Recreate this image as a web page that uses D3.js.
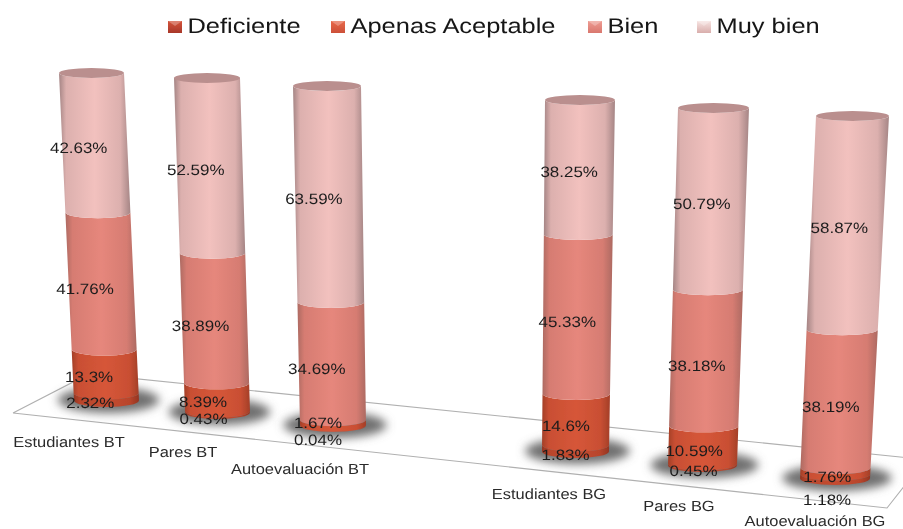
<!DOCTYPE html>
<html>
<head>
<meta charset="utf-8">
<script src="https://cdnjs.cloudflare.com/ajax/libs/d3/7.8.5/d3.min.js"></script>
<style>
    html, body { margin: 0; padding: 0; background: #fff; }
    svg { display: block; }
    text { font-family: "Liberation Sans", Arial, sans-serif; text-rendering: geometricPrecision; }
</style>
</head>
<body>
<div id="chart"></div>
<script>
const categories = ['Estudiantes BT', 'Pares BT', 'Autoevaluación BT', 'Estudiantes BG', 'Pares BG', 'Autoevaluación BG']
const seriesNames = ['Deficiente', 'Apenas Aceptable', 'Bien', 'Muy bien']

const deficiente = [2.32, 0.43, 0.04, 1.83, 0.45, 1.18]
const apenasAceptable = [13.3, 8.39, 1.67, 14.6, 10.59, 1.76]
const bien = [41.76, 38.89, 34.69, 45.33, 38.18, 38.19]
const muyBien = [42.63, 52.59, 63.59, 38.25, 50.79, 58.87]

const seriesValues = [deficiente, apenasAceptable, bien, muyBien]

const width = 903
const height = 529

// the picture is a perspective view, so every cylinder gets its own ends
const baseX = d3.scaleOrdinal(categories, [106.5, 217.5, 333, 575.5, 702.5, 835])
const topX = d3.scaleOrdinal(categories, [91.5, 207, 327, 580, 713.5, 852.5])
const baseY = d3.scaleOrdinal(categories, [407, 419, 432, 458, 472, 485])
const topY = d3.scaleOrdinal(categories, [78, 83, 91, 105, 113, 121])
const baseW = d3.scaleOrdinal(categories, [65, 65, 66, 67, 69, 70])
const topW = d3.scaleOrdinal(categories, [65, 66, 68, 70, 71, 73])
const labelShift = d3.scaleOrdinal(categories, [-16, -14, -15, -10, -9, -8])

const y = c => d3.scaleLinear().domain([0, 100]).range([baseY(c), topY(c)])
const cx = c => d3.scaleLinear().domain([0, 100]).range([baseX(c), topX(c)])
const halfW = c => d3.scaleLinear().domain([0, 100]).range([baseW(c) / 2, topW(c) / 2])
const ry = c => d3.scaleLinear().domain([0, 100]).range([6.5, 5])

// [edge, shoulder, centre] for the horizontal shading of the cylinders
const shades = [
    ['#933522', '#b8452c', '#c54c30'],
    ['#a33f28', '#c94f33', '#d65639'],
    ['#ad6a62', '#d67c72', '#e6877c'],
    ['#a58585', '#dcb0ae', '#f2c1be']
]
const capColor = '#ba8f8e'
const swatchShades = [
    ['#d4543a', '#a8382a'],
    ['#e8694a', '#cc5038'],
    ['#ee9c92', '#d9776e'],
    ['#f7e4e2', '#d9aeac']
]

const svg = d3.select('#chart').append('svg')
    .attr('width', width)
    .attr('height', height)
    .attr('viewBox', `0 0 ${width} ${height}`)

const defs = svg.append('defs')

defs.append('filter').attr('id', 'soft')
    .append('feGaussianBlur').attr('stdDeviation', 0.5)

defs.append('filter').attr('id', 'softText')
    .append('feGaussianBlur').attr('stdDeviation', 0.3)

defs.append('filter').attr('id', 'shadowBlur')
    .attr('x', '-40%').attr('y', '-100%').attr('width', '180%').attr('height', '300%')
    .append('feGaussianBlur').attr('stdDeviation', 5)

shades.forEach((s, i) => {
    const grad = defs.append('linearGradient').attr('id', `shade${i}`)
    const stops = [[0, s[0]], [0.1, s[1]], [0.5, s[2]], [0.86, s[1]], [1, s[0]]]
    grad.selectAll('stop').data(stops).join('stop')
        .attr('offset', d => d[0])
        .attr('stop-color', d => d[1])
})

swatchShades.forEach((s, i) => {
    const grad = defs.append('linearGradient').attr('id', `swatch${i}`)
        .attr('x1', 0).attr('x2', 0).attr('y1', 0).attr('y2', 1)
    grad.selectAll('stop').data(s).join('stop')
        .attr('offset', (d, j) => j)
        .attr('stop-color', d => d)
})

// floor of the 3d chart
svg.append('path')
    .attr('d', d3.line()([[13, 413], [88.8, 373.9], [925, 459.5], [887, 508], [13, 413]]))
    .attr('fill', 'none')
    .attr('stroke', '#b0b0b0')
    .attr('stroke-width', 1.1)
    .attr('filter', 'url(#soft)')

// shadows below the cylinders
svg.append('g')
    .selectAll('ellipse')
    .data(categories)
    .join('ellipse')
    .attr('cx', d => baseX(d) + 2)
    .attr('cy', d => baseY(d) - 7)
    .attr('rx', d => baseW(d) * 0.78)
    .attr('ry', 13)
    .attr('fill', '#707070')
    .attr('filter', 'url(#shadowBlur)')

// stack the values per category
const stacked = categories.map((c, i) => {
    let sum = 0
    return seriesValues.map((values, s) => {
        const item = { category: c, series: s, value: values[i], from: sum, to: sum + values[i] }
        sum += values[i]
        return item
    })
})

function segmentPath(d) {
    const c = d.category
    const yS = y(c), xS = cx(c), wS = halfW(c), rS = ry(c)
    const x0 = xS(d.from), x1 = xS(d.to)
    const w0 = wS(d.from), w1 = wS(d.to)
    const y0 = yS(d.from) - rS(d.from), y1 = yS(d.to) - rS(d.to)
    return `M${x0 - w0},${y0}` +
        `A${w0},${rS(d.from)} 0 0 0 ${x0 + w0},${y0}` +
        `L${x1 + w1},${y1}` +
        `A${w1},${rS(d.to)} 0 0 1 ${x1 - w1},${y1}Z`
}

const cylinders = svg.append('g')
    .attr('filter', 'url(#soft)')
    .selectAll('g')
    .data(stacked)
    .join('g')

cylinders.selectAll('path')
    .data(d => d)
    .join('path')
    .attr('d', segmentPath)
    .attr('fill', d => `url(#shade${d.series})`)

cylinders.append('ellipse')
    .attr('cx', d => cx(d[0].category)(100))
    .attr('cy', d => y(d[0].category)(100) - ry(d[0].category)(100))
    .attr('rx', d => halfW(d[0].category)(100))
    .attr('ry', d => ry(d[0].category)(100))
    .attr('fill', capColor)

// percent labels, the thin segments sit off their slice
const labelNudge = {
    'Pares BT': [1, -1, 0, 0],
    'Autoevaluación BT': [8, -6, 0, 0],
    'Autoevaluación BG': [17, 0, 0, 0]
}

function labelPos(d) {
    const mid = (d.from + d.to) / 2
    const nudge = labelNudge[d.category] ? labelNudge[d.category][d.series] : 0
    return [cx(d.category)(mid) + labelShift(d.category), y(d.category)(mid) + 1 + (d.series == 2 ? 2 : 0) + nudge]
}

svg.append('g')
    .attr('filter', 'url(#softText)')
    .selectAll('text')
    .data(stacked.flat())
    .join('text')
    .text(d => d.value + '%')
    .attr('text-anchor', 'middle')
    .attr('dominant-baseline', 'middle')
    .attr('transform', d => `translate(${labelPos(d)}) scale(1.13,1)`)
    .style('font-size', '15px')
    .style('fill', '#1c1c1c')

// category labels on the floor
const catX = d3.scaleOrdinal(categories, [69, 183, 300, 549, 679, 815])
const catY = d3.scaleOrdinal(categories, [447, 457, 474, 499, 511, 525.5])

svg.append('g')
    .attr('filter', 'url(#softText)')
    .selectAll('text')
    .data(categories)
    .join('text')
    .text(d => d)
    .attr('text-anchor', 'middle')
    .attr('transform', d => `translate(${catX(d)},${catY(d)}) scale(1.12,1)`)
    .style('font-size', '14.7px')
    .style('fill', '#2c2c2c')

// legend
const legendX = d3.scaleOrdinal(seriesNames, [168, 331, 588, 697])

const legend = svg.append('g')
    .attr('filter', 'url(#softText)')
    .selectAll('g')
    .data(seriesNames)
    .join('g')
    .attr('transform', d => `translate(${legendX(d)},21)`)

legend.append('rect')
    .attr('width', 14)
    .attr('height', 12)
    .attr('fill', (d, i) => `url(#swatch${i})`)

// little bevel on top of the swatch
legend.append('path')
    .attr('d', d3.line()([[0, 0], [14, 0], [7, 5]]))
    .attr('fill', '#fff')
    .attr('opacity', 0.28)

legend.append('text')
    .text(d => d)
    .attr('transform', 'translate(19.5,12) scale(1.2,1)')
    .style('font-size', '21.2px')
    .style('fill', '#141414')
</script>
</body>
</html>
